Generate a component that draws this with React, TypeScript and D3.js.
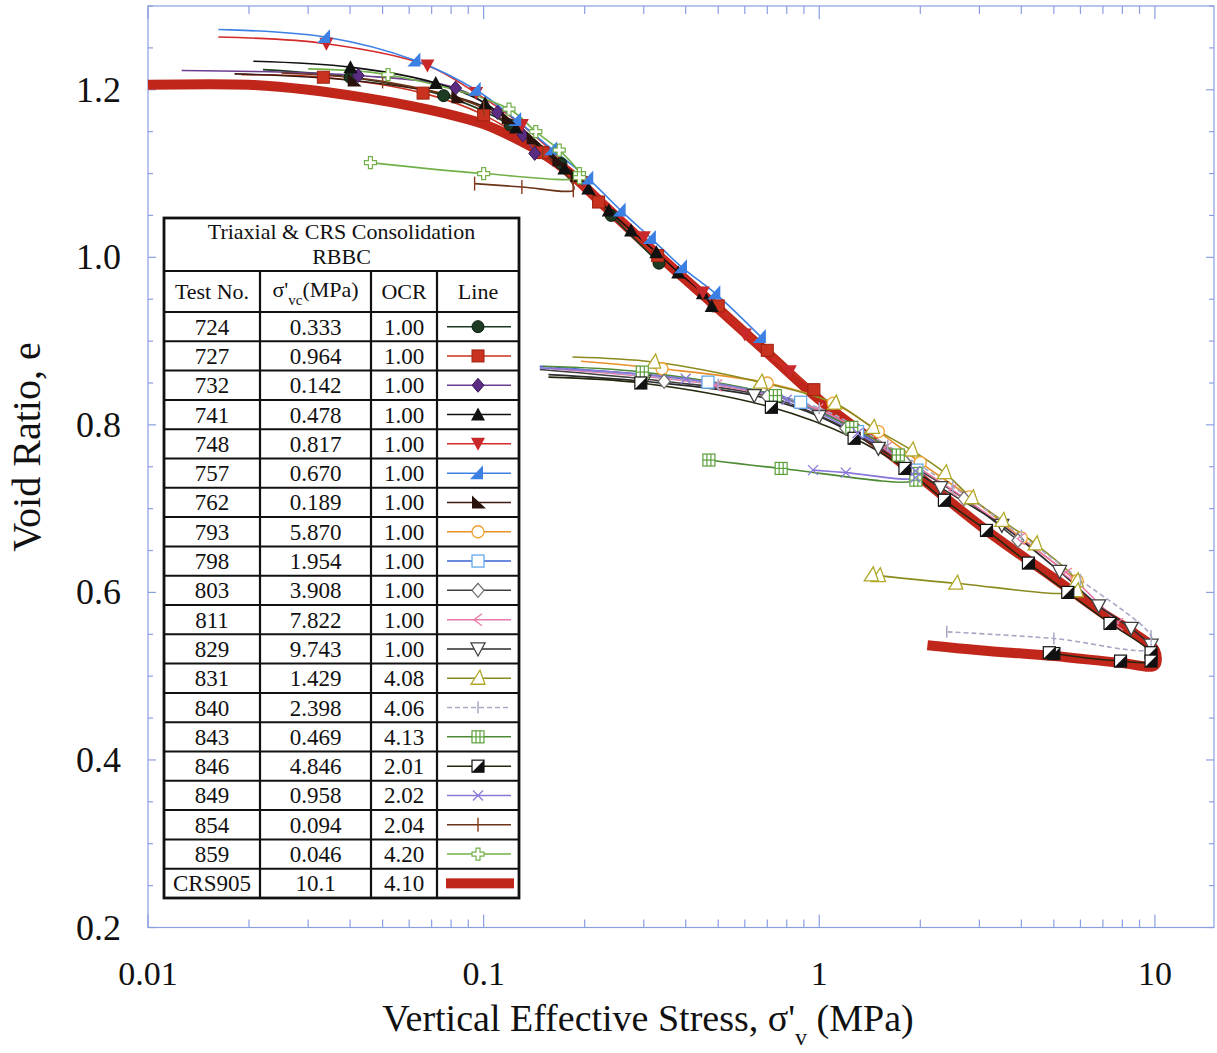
import React from "react";
import * as d3 from "d3";

const W = 1217;
const H = 1053;

// table of tests
const testNos = ["724", "727", "732", "741", "748", "757", "762", "793", "798", "803", "811", "829", "831", "840", "843", "846", "849", "854", "859", "CRS905"];
const sigmaVc = ["0.333", "0.964", "0.142", "0.478", "0.817", "0.670", "0.189", "5.870", "1.954", "3.908", "7.822", "9.743", "1.429", "2.398", "0.469", "4.846", "0.958", "0.094", "0.046", "10.1"];
const ocrs = ["1.00", "1.00", "1.00", "1.00", "1.00", "1.00", "1.00", "1.00", "1.00", "1.00", "1.00", "1.00", "4.08", "4.06", "4.13", "2.01", "2.02", "2.04", "4.20", "4.10"];

// curves: [vertical effective stress (MPa), void ratio]
const s724 = [[0.022, 1.224], [0.04, 1.215], [0.076, 1.193], [0.12, 1.158], [0.17, 1.112], [0.24, 1.05], [0.333, 0.993]];
const s727 = [[0.019, 1.218], [0.0333, 1.215], [0.066, 1.196], [0.1, 1.17], [0.15, 1.125], [0.22, 1.066], [0.33, 1.002], [0.5, 0.942], [0.7, 0.889], [0.964, 0.842]];
const s732 = [[0.0126, 1.223], [0.0423, 1.217], [0.0825, 1.202], [0.11, 1.173], [0.131, 1.146], [0.142, 1.124]];
const s741 = [[0.0206, 1.234], [0.0401, 1.227], [0.072, 1.208], [0.101, 1.184], [0.125, 1.155], [0.174, 1.106], [0.205, 1.082], [0.236, 1.056], [0.275, 1.032], [0.327, 1.006], [0.38, 0.982], [0.45, 0.957], [0.478, 0.942]];
const s748 = [[0.0162, 1.263], [0.034, 1.255], [0.068, 1.229], [0.095, 1.196], [0.13, 1.158], [0.2, 1.09], [0.3, 1.024], [0.45, 0.958], [0.6, 0.908], [0.817, 0.864]];
const s757 = [[0.0162, 1.272], [0.0337, 1.263], [0.0626, 1.235], [0.0947, 1.2], [0.125, 1.164], [0.16, 1.129], [0.205, 1.094], [0.256, 1.056], [0.315, 1.023], [0.39, 0.988], [0.49, 0.957], [0.67, 0.905]];
const s762 = [[0.0181, 1.219], [0.041, 1.211], [0.0835, 1.191], [0.118, 1.166], [0.14, 1.142], [0.167, 1.116], [0.189, 1.097]];
const s793 = [[0.195, 0.876], [0.34, 0.867], [0.7, 0.85], [1.1, 0.826], [1.5, 0.792], [2.0, 0.755], [2.8, 0.714], [4.0, 0.665], [5.87, 0.614]];
const s798 = [[0.147, 0.87], [0.466, 0.851], [0.88, 0.827], [1.3, 0.792], [1.954, 0.746]];
const s803 = [[0.147, 0.866], [0.345, 0.852], [0.7, 0.834], [1.2, 0.796], [1.8, 0.756], [2.7, 0.712], [3.908, 0.662]];
const s811 = [[0.16, 0.867], [0.5, 0.847], [1.0, 0.818], [1.6, 0.772], [2.5, 0.722], [4.0, 0.664], [5.5, 0.622], [7.822, 0.562]];
const s829 = [[0.156, 0.86], [0.3, 0.852], [0.64, 0.835], [1.0, 0.81], [1.5, 0.772], [2.3, 0.725], [3.5, 0.68], [5.2, 0.625], [6.8, 0.584], [8.5, 0.557], [9.743, 0.537]];
const s831 = [[0.184, 0.881], [0.321, 0.875], [0.667, 0.851], [1.11, 0.826], [1.44, 0.797], [1.88, 0.77], [2.36, 0.743], [2.84, 0.713], [3.5, 0.686], [4.4, 0.658], [5.83, 0.614], [5.83, 0.602], [2.55, 0.611], [1.5, 0.62], [1.429, 0.621]];
const s840 = [[0.16, 0.868], [0.5, 0.848], [1.0, 0.82], [1.6, 0.775], [2.5, 0.726], [4.0, 0.668], [6.0, 0.615], [9.74, 0.548], [9.74, 0.533], [5.0, 0.545], [2.398, 0.553]];
const s843 = [[0.15, 0.87], [0.297, 0.863], [0.74, 0.835], [1.25, 0.797], [1.72, 0.764], [1.94, 0.742], [1.94, 0.734], [0.77, 0.748], [0.469, 0.758]];
const s846 = [[0.156, 0.857], [0.294, 0.85], [0.72, 0.821], [1.27, 0.784], [1.8, 0.748], [2.36, 0.71], [3.15, 0.674], [4.2, 0.635], [5.5, 0.6], [7.35, 0.563], [9.74, 0.528], [9.74, 0.518], [7.9, 0.518], [5.0, 0.527], [4.846, 0.528]];
const s849 = [[0.147, 0.868], [0.4, 0.855], [0.8, 0.83], [1.3, 0.79], [1.935, 0.745], [1.935, 0.737], [1.2, 0.743], [0.958, 0.746]];
const s854 = [[0.025, 1.22], [0.05, 1.21], [0.1, 1.178], [0.15, 1.125], [0.185, 1.086], [0.185, 1.08], [0.13, 1.084], [0.094, 1.088]];
const s859 = [[0.03, 1.225], [0.0519, 1.218], [0.119, 1.177], [0.143, 1.15], [0.168, 1.128], [0.193, 1.1], [0.193, 1.095], [0.1, 1.1], [0.046, 1.113]];
const crs905 = [[0.01, 1.206], [0.02, 1.206], [0.03, 1.2], [0.045, 1.19], [0.06, 1.181], [0.08, 1.17], [0.1, 1.159], [0.12, 1.145], [0.15, 1.124], [0.18, 1.101], [0.223, 1.066], [0.3, 1.018], [0.445, 0.957], [0.7, 0.886], [1.0, 0.83], [1.4, 0.785], [2.0, 0.737], [3.15, 0.674], [5.0, 0.617], [7.0, 0.575], [8.7, 0.551], [10.0, 0.531], [10.0, 0.513], [7.9, 0.516], [5.0, 0.524], [3.0, 0.531], [2.1, 0.537]];

const seriesData = [s724, s727, s732, s741, s748, s757, s762, s793, s798, s803, s811, s829, s831, s840, s843, s846, s849, s854, s859, crs905];

const styles = [
  { line: "#1d3b22", mark: "dot", fill: "#1d3b22" },
  { line: "#c8321e", mark: "sq", fill: "#c8321e" },
  { line: "#6a3d8e", mark: "dia", fill: "#5b2d82" },
  { line: "#111111", mark: "up", fill: "#111111" },
  { line: "#d42a2a", mark: "down", fill: "#c8282a" },
  { line: "#3c80e4", mark: "rtri", fill: "#3c80e4" },
  { line: "#3d1a12", mark: "ltri", fill: "#2a120c" },
  { line: "#e8902a", mark: "ocirc", fill: "#f0a030" },
  { line: "#3a62d4", mark: "osq", fill: "#62a8ea" },
  { line: "#404040", mark: "odia", fill: "#707070" },
  { line: "#ea78a8", mark: "chev", fill: "#ea78a8" },
  { line: "#2c2c2c", mark: "odown", fill: "#404040" },
  { line: "#8a8a1e", mark: "otri", fill: "#b0a828" },
  { line: "#a6a8c4", mark: "tick", fill: "#a6a8c4", dash: "5,3" },
  { line: "#4c8a34", mark: "grid", fill: "#5aa03c" },
  { line: "#26260e", mark: "half", fill: "#111111" },
  { line: "#8878d8", mark: "x", fill: "#8878d8" },
  { line: "#6b3418", mark: "plus", fill: "#8a3a1c" },
  { line: "#72b04a", mark: "ocross", fill: "#72b04a" },
  { line: "#c1261a", mark: "none", fill: "#c1261a" },
];

const serif = "'Liberation Serif', 'Times New Roman', serif";

const Marker = ({ type, color }: { type: string; color: string }) => {
  switch (type) {
    case "dot":
      return <circle r={6} fill={color} stroke="#0c1e10" strokeWidth={1} />;
    case "sq":
      return <rect x={-6} y={-6} width={12} height={12} fill={color} stroke="#a02010" strokeWidth={1} />;
    case "dia":
      return <polygon points="0,-7 6,0 0,7 -6,0" fill={color} stroke="#3a1a5a" strokeWidth={1} />;
    case "up":
      return <polygon points="0,-7 7,6 -7,6" fill={color} />;
    case "down":
      return <polygon points="0,7 7,-6 -7,-6" fill={color} />;
    case "rtri":
      return <polygon points="5,-8 5,6 -8,6" fill={color} />;
    case "ltri":
      return <polygon points="-6,-7 -6,6 8,6" fill={color} />;
    case "ocirc":
      return <circle r={6} fill="white" stroke={color} strokeWidth={1.3} />;
    case "osq":
      return <rect x={-6} y={-6} width={12} height={12} fill="white" stroke={color} strokeWidth={1.3} />;
    case "odia":
      return <polygon points="0,-7 6,0 0,7 -6,0" fill="white" stroke={color} strokeWidth={1.3} />;
    case "chev":
      return <polyline points="4,-6 -4,0 4,6" fill="none" stroke={color} strokeWidth={1.3} />;
    case "odown":
      return <polygon points="0,7 7,-6 -7,-6" fill="white" stroke={color} strokeWidth={1.3} />;
    case "otri":
      return <polygon points="2,-8 7,6 -7,6" fill="white" stroke={color} strokeWidth={1.3} />;
    case "tick":
      return <line x1={0} x2={0} y1={-6} y2={6} stroke={color} strokeWidth={1.5} />;
    case "grid":
      return (
        <g fill="none" stroke={color} strokeWidth={1.2}>
          <rect x={-6} y={-6} width={12} height={12} fill="white" />
          <line x1={-2} x2={-2} y1={-6} y2={6} />
          <line x1={2} x2={2} y1={-6} y2={6} />
          <line x1={-6} x2={6} y1={0} y2={0} />
        </g>
      );
    case "half":
      return (
        <g>
          <rect x={-6} y={-6} width={12} height={12} fill="white" stroke="#111" strokeWidth={1.2} />
          <polygon points="6,-6 6,6 -6,6" fill={color} />
        </g>
      );
    case "x":
      return (
        <g stroke={color} strokeWidth={1.3}>
          <line x1={-5} x2={5} y1={-5} y2={5} />
          <line x1={-5} x2={5} y1={5} y2={-5} />
        </g>
      );
    case "plus":
      return (
        <g stroke={color} strokeWidth={1.4}>
          <line x1={0} x2={0} y1={-7} y2={7} />
        </g>
      );
    case "ocross":
      return <polygon points="-2,-6 2,-6 2,-2 6,-2 6,2 2,2 2,6 -2,6 -2,2 -6,2 -6,-2 -2,-2" fill="white" stroke={color} strokeWidth={1.2} />;
    default:
      return null;
  }
};

const App = () => {
  const x = d3.scaleLog().domain([0.01, 15]).range([148, 1214]);
  const y = d3.scaleLinear().domain([0.2, 1.3]).range([927.5, 6]);

  const line = d3
    .line<number[]>()
    .x((d) => x(d[0]))
    .y((d) => y(d[1]))
    .curve(d3.curveCatmullRom.alpha(0.5));

  const xTicks = x.ticks().filter((t) => t <= 15);
  const yTicks = d3.range(0.2, 1.3001, 0.05);
  const frame = "#8c9ee2";
  const [x0, x1] = x.range();
  const [yb, yt] = y.range();

  // legend table geometry
  const tL = 164, tR = 519, tTop = 218, tTitle = 271, tHead = 312, tBot = 898;
  const cols = [tL, 260, 371, 437, tR];
  const rowH = (tBot - tHead) / testNos.length;
  const colMid = (i: number) => (cols[i] + cols[i + 1]) / 2;

  return (
    <svg width={W} height={H} style={{ position: "absolute", left: 0, top: 0, background: "white" }} fontFamily={serif}>
      <rect width={W} height={H} fill="white" />
      {/* frame */}
      <rect x={x0} y={yt} width={x1 - x0} height={yb - yt} fill="none" stroke={frame} strokeWidth={1.2} />
      {xTicks.map((t, i) => {
        const major = Math.abs(Math.log10(t) - Math.round(Math.log10(t))) < 1e-6;
        const len = major ? 13 : 8;
        return (
          <g key={"xt" + i} stroke={frame} strokeWidth={1.2}>
            <line x1={x(t)} x2={x(t)} y1={yb} y2={yb - len} />
            <line x1={x(t)} x2={x(t)} y1={yt} y2={yt + len} />
          </g>
        );
      })}
      {yTicks.map((t, i) => {
        const major = i % 4 === 0;
        const len = major ? 8 : 5;
        return (
          <g key={"yt" + i} stroke={frame} strokeWidth={1.2}>
            <line x1={x0} x2={x0 + len} y1={y(t)} y2={y(t)} />
            <line x1={x1} x2={x1 - len} y1={y(t)} y2={y(t)} />
          </g>
        );
      })}
      {yTicks.filter((_, i) => i % 4 === 0).map((t, i) => (
        <text key={"yl" + i} x={121} y={y(t) + 12} textAnchor="end" fontSize={36} fill="#111">
          {t.toFixed(1)}
        </text>
      ))}
      {[0.01, 0.1, 1, 10].map((t, i) => (
        <text key={"xl" + i} x={x(t)} y={985} textAnchor="middle" fontSize={34} fill="#111">
          {String(t)}
        </text>
      ))}
      <text x={648} y={1031} textAnchor="middle" fontSize={38} fill="#111">
        Vertical Effective Stress, σ'<tspan dy={14} fontSize={24}>v</tspan>
        <tspan dy={-14}> (MPa)</tspan>
      </text>
      <text transform="translate(40,447) rotate(-90)" textAnchor="middle" fontSize={40} fill="#111">
        Void Ratio, e
      </text>

      {/* curves */}
      <path d={line(crs905 as number[][]) || ""} fill="none" stroke={styles[19].line} strokeWidth={10} strokeLinejoin="round" />
      {seriesData.slice(0, 19).map((pts, i) => (
        <path
          key={"ln" + i}
          d={line(pts as number[][]) || ""}
          fill="none"
          stroke={styles[i].line}
          strokeWidth={1.6}
          strokeDasharray={(styles[i] as any).dash || undefined}
        />
      ))}
      {seriesData.slice(0, 19).map((pts, i) => (
        <g key={"mk" + i}>
          {pts.slice(1).map((p, j) => (
            <g key={j} transform={`translate(${x(p[0])},${y(p[1])})`}>
              <Marker type={styles[i].mark} color={styles[i].fill} />
            </g>
          ))}
        </g>
      ))}

      {/* legend table */}
      <g>
        <rect x={tL} y={tTop} width={tR - tL} height={tBot - tTop} fill="white" stroke="#111" strokeWidth={2.8} />
        <line x1={tL} x2={tR} y1={tTitle} y2={tTitle} stroke="#111" strokeWidth={2.2} />
        <line x1={tL} x2={tR} y1={tHead} y2={tHead} stroke="#111" strokeWidth={2.2} />
        {testNos.slice(1).map((_, i) => (
          <line key={"rl" + i} x1={tL} x2={tR} y1={tHead + rowH * (i + 1)} y2={tHead + rowH * (i + 1)} stroke="#111" strokeWidth={2} />
        ))}
        {cols.slice(1, 4).map((c, i) => (
          <line key={"cl" + i} x1={c} x2={c} y1={tTitle} y2={tBot} stroke="#111" strokeWidth={2.2} />
        ))}
        <text x={(tL + tR) / 2} y={239} textAnchor="middle" fontSize={22} fill="#111">
          Triaxial &amp; CRS Consolidation
        </text>
        <text x={(tL + tR) / 2} y={264} textAnchor="middle" fontSize={22} fill="#111">
          RBBC
        </text>
        <text x={colMid(0)} y={299} textAnchor="middle" fontSize={22} fill="#111">Test No.</text>
        <text x={colMid(1)} y={297} textAnchor="middle" fontSize={22} fill="#111">
          σ'<tspan dy={8} fontSize={15}>vc</tspan>
          <tspan dy={-8}>(MPa)</tspan>
        </text>
        <text x={colMid(2)} y={299} textAnchor="middle" fontSize={22} fill="#111">OCR</text>
        <text x={colMid(3)} y={299} textAnchor="middle" fontSize={22} fill="#111">Line</text>
        {testNos.map((t, i) => {
          const cy = tHead + rowH * (i + 0.5);
          const st = styles[i];
          return (
            <g key={"row" + i}>
              <text x={colMid(0)} y={cy + 8} textAnchor="middle" fontSize={23} fill="#111">{t}</text>
              <text x={colMid(1)} y={cy + 8} textAnchor="middle" fontSize={23} fill="#111">{sigmaVc[i]}</text>
              <text x={colMid(2)} y={cy + 8} textAnchor="middle" fontSize={23} fill="#111">{ocrs[i]}</text>
              {st.mark === "none" ? (
                <rect x={446} y={cy - 5} width={68} height={10} fill={st.line} />
              ) : (
                <g>
                  <line x1={447} x2={511} y1={cy} y2={cy} stroke={st.line} strokeWidth={1.5} strokeDasharray={(st as any).dash || undefined} />
                  <g transform={`translate(${colMid(3)},${cy})`}>
                    <Marker type={st.mark} color={st.fill} />
                  </g>
                </g>
              )}
            </g>
          );
        })}
      </g>
    </svg>
  );
};

export default App;
